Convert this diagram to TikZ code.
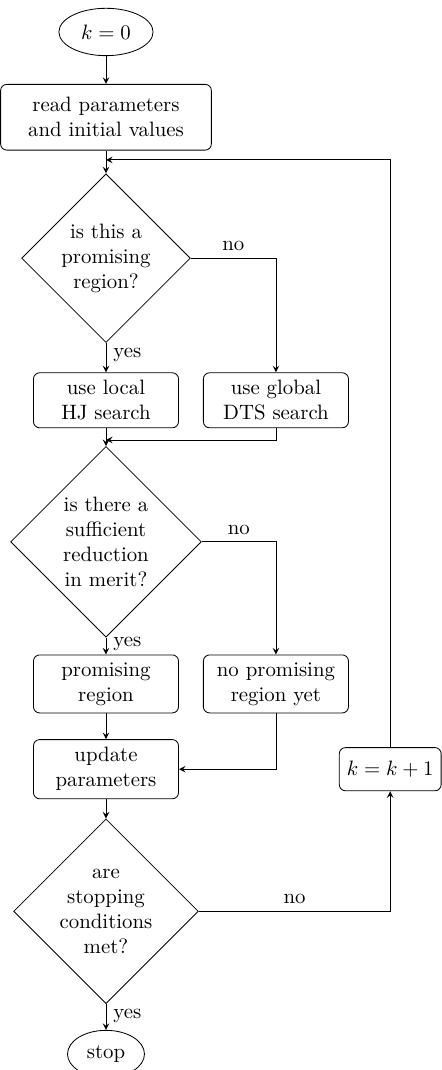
\documentclass[tikz,border=0pt]{standalone}
\usetikzlibrary{shapes.geometric}

\tikzset{
	block/.style={draw, rounded corners=3pt, align=center, minimum width=2.45cm, inner sep=2pt},
	decision/.style={draw, diamond, aspect=1, align=center, inner sep=0pt},
	terminal/.style={draw, ellipse, minimum height=0.8cm, inner sep=1pt},
}

\begin{document}
\begin{tikzpicture}[>=stealth]
\useasboundingbox (0,0) rectangle (7.45,-18.07);

% main column
\node [terminal, minimum width=1.59cm] (start) at (1.79,-0.54) {$k=0$};
\node [block, minimum width=3.56cm, minimum height=1.11cm] (read) at (1.79,-1.98) {read parameters\\and initial values};
\coordinate (m1) at (1.79,-2.70);
\node [decision, minimum size=2.85cm] (d1) at (1.79,-4.36) {is this a\\promising\\region?};
\node [block, minimum height=0.93cm] (local) at (1.79,-6.76) {use local\\HJ search};
\node [block, minimum height=0.93cm] (global) at (4.66,-6.76) {use global\\DTS search};
\coordinate (m2) at (1.79,-7.43);
\node [decision, minimum size=3.22cm] (d2) at (1.79,-9.15) {is there a\\sufficient\\reduction\\in merit?};
\node [block, minimum height=0.98cm] (prom) at (1.79,-11.55) {promising\\region};
\node [block, minimum height=0.98cm] (noprom) at (4.66,-11.55) {no promising\\region yet};
\node [block, minimum height=1.0cm] (update) at (1.79,-12.99) {update\\parameters};
\node [decision, minimum size=3.12cm] (d3) at (1.79,-15.39) {are\\stopping\\conditions\\met?};
\node [terminal, minimum width=1.30cm] (stop) at (1.79,-17.80) {stop};

% loop back
\node [block, minimum width=1.72cm, minimum height=0.73cm] (inc) at (6.59,-12.99) {$k=k+1$};

\draw [->] (start) -- (read);
\draw [->] (read) -- (d1);
\draw [->] (inc.north) |- (m1);

\draw [->] (d1.south) -- (local) node [pos=0.4, right] {yes};
\draw [->] (d1.east) -| (global.north) node [pos=0.25, above] {no};
\draw [->] (local) -- (d2);
\draw [->] (global.south) |- (m2);

\draw [->] (d2.south) -- (prom) node [pos=0.4, right] {yes};
\draw [->] (d2.east) -| (noprom.north) node [pos=0.25, above] {no};
\draw [->] (prom) -- (update);
\draw [->] (noprom.south) |- (update.east);

\draw [->] (update) -- (d3);
\draw [->] (d3.east) -| (inc.south) node [pos=0.25, above] {no};
\draw [->] (d3.south) -- (stop) node [pos=0.45, right] {yes};

\end{tikzpicture}
\end{document}
